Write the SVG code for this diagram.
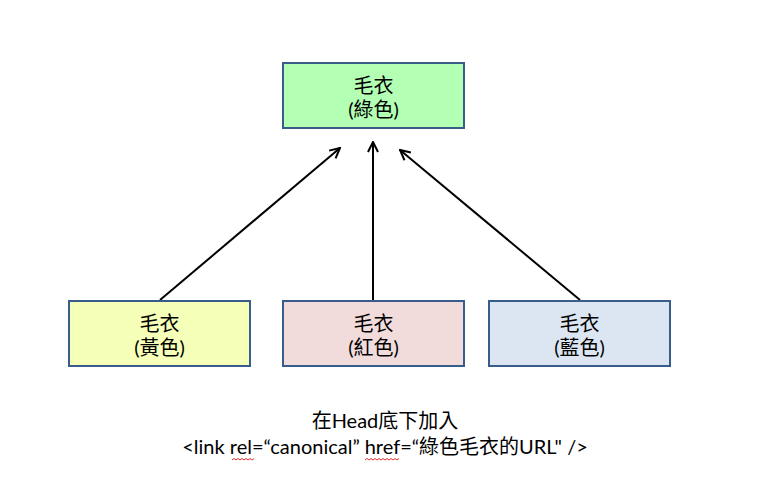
<svg xmlns="http://www.w3.org/2000/svg" width="769" height="495" viewBox="0 0 769 495">
<style>
.box{stroke:#385D8A;stroke-width:2}
.t{font-family:Lato,"Noto Sans CJK TC",sans-serif;font-size:20px;fill:#000;text-anchor:middle}
.c{stroke:#000;stroke-width:2;fill:none}
.sq{stroke:#e03030;stroke-width:1;fill:none}
</style>
<defs>
<marker id="a" viewBox="0 0 12 12" refX="11" refY="6" markerWidth="12" markerHeight="12" markerUnits="userSpaceOnUse" orient="auto">
<path d="M1,1 L11,6 L1,11" fill="none" stroke="#000" stroke-width="2"/>
</marker>
</defs>
<rect width="769" height="495" fill="#fff"/>
<g id="connectors">
<line class="c" x1="160" y1="300" x2="340" y2="148" marker-end="url(#a)"/>
<line class="c" x1="373" y1="300" x2="373" y2="142" marker-end="url(#a)"/>
<line class="c" x1="580" y1="300" x2="400" y2="150" marker-end="url(#a)"/>
</g>
<g id="green">
<rect class="box" x="283" y="63" width="181" height="65" fill="#B3FFB3"/>
<text class="t" x="373.5" y="93">毛衣</text>
<text class="t" x="373.5" y="117">(綠色)</text>
</g>
<g id="yellow">
<rect class="box" x="69" y="301" width="181" height="65" fill="#F6FFB8"/>
<text class="t" x="159.5" y="331">毛衣</text>
<text class="t" x="159.5" y="355">(黃色)</text>
</g>
<g id="red">
<rect class="box" x="283" y="301" width="181" height="65" fill="#F2DCDB"/>
<text class="t" x="373.5" y="331">毛衣</text>
<text class="t" x="373.5" y="355">(紅色)</text>
</g>
<g id="blue">
<rect class="box" x="489" y="301" width="181" height="65" fill="#DCE6F2"/>
<text class="t" x="579.5" y="331">毛衣</text>
<text class="t" x="579.5" y="355">(藍色)</text>
</g>
<g id="note">
<text class="t" x="385" y="428">在Head底下加入</text>
<text class="t" x="385" y="454">&lt;link rel=“canonical” href=“綠色毛衣的URL" /&gt;</text>
<path class="sq" d="M232,460 l2,-1.5 l2,1.5 l2,-1.5 l2,1.5 l2,-1.5 l2,1.5 l2,-1.5 l2,1.5 l2,-1.5 l2,1.5 l2,-1.5"/>
<path class="sq" d="M365,460 l2,-1.5 l2,1.5 l2,-1.5 l2,1.5 l2,-1.5 l2,1.5 l2,-1.5 l2,1.5 l2,-1.5 l2,1.5 l2,-1.5 l2,1.5 l2,-1.5 l2,1.5 l2,-1.5 l2,1.5 l2,-1.5"/>
</g>
</svg>
